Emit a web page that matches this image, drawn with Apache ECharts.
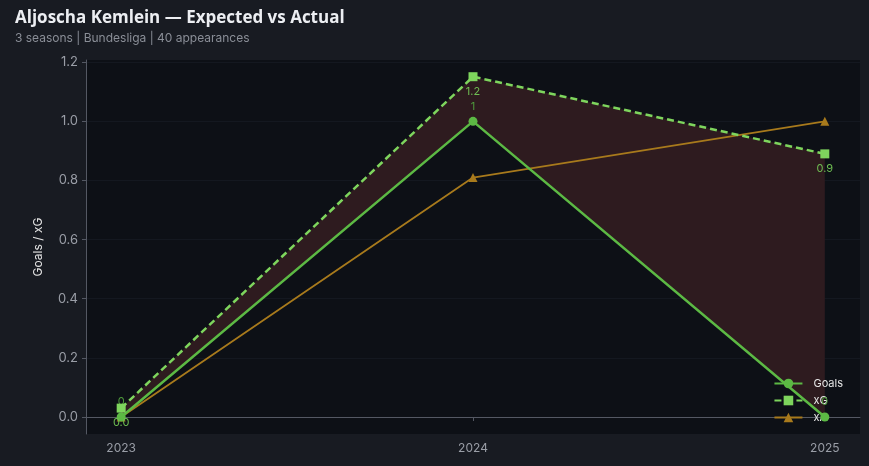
<!DOCTYPE html>
<html>
<head>
<meta charset="utf-8">
<script src="https://cdn.jsdelivr.net/npm/echarts@6/dist/echarts.min.js"></script>
<style>
  html, body { margin: 0; padding: 0; background: #181b22; }
  #chart { width: 869px; height: 466px; }
</style>
</head>
<body>
<div id="chart"></div>
<script>
// Season-by-season output
const seasons = [2023, 2024, 2025];
const goals = [0, 1, 0];
const xg = [0.03, 1.151, 0.89];
const xa = [0.0, 0.81, 1.0];
const yTicks = [0, 0.2, 0.4, 0.6, 0.8, 1.0, 1.2];

const pairs = arr => seasons.map((s, i) => [s, arr[i]]);

// shaded band between the goals line and the xG line
function renderBand(params, api) {
  if (params.dataIndex !== 0) return null;
  const upper = seasons.map((s, i) => api.coord([s, xg[i]]));
  const lower = seasons.map((s, i) => api.coord([s, goals[i]])).reverse();
  return {
    type: 'polygon',
    shape: { points: upper.concat(lower) },
    style: { fill: '#2e1b1f' },
    silent: true
  };
}

const chart = echarts.init(document.getElementById('chart'));
chart.setOption({
  backgroundColor: '#181b22',
  animation: false,
  title: {
    text: 'Aljoscha Kemlein — Expected vs Actual',
    subtext: '3 seasons | Bundesliga | 40 appearances',
    left: 10, top: 5, itemGap: 5,
    textStyle: { color: '#eceef2', fontSize: 17, fontWeight: 'bold', fontFamily: 'Open Sans' },
    subtextStyle: { color: '#8a8e97', fontSize: 12, fontFamily: 'Inter' }
  },
  grid: { left: 86, right: 9, top: 60, bottom: 32, show: true, backgroundColor: '#0d1016', borderWidth: 0 },
  legend: {
    orient: 'vertical', right: 21, bottom: 38, itemGap: 6,
    itemWidth: 28, itemHeight: 12,
    textStyle: { color: '#e6e6e6', fontSize: 11, fontFamily: 'Inter', padding: [0, 0, 0, 6] },
    data: ['Goals', 'xG', 'xA']
  },
  xAxis: {
    type: 'value', min: 2022.9, max: 2025.1,
    axisLine: { lineStyle: { color: '#545863' } },
    axisTick: { show: true, length: 4, customValues: seasons, lineStyle: { color: '#545863' } },
    axisLabel: { customValues: seasons, color: '#9a9ea7', fontSize: 12, fontFamily: 'Inter', margin: 8, formatter: v => String(v) },
    splitLine: { show: false }
  },
  yAxis: {
    type: 'value', min: -0.0575, max: 1.2075,
    name: 'Goals / xG', nameLocation: 'middle', nameGap: 42,
    nameTextStyle: { color: '#e6e6e6', fontSize: 12, fontFamily: 'Inter' },
    axisLine: { show: true, lineStyle: { color: '#545863' } },
    axisTick: { show: true, length: 4, customValues: yTicks, lineStyle: { color: '#545863' } },
    axisLabel: { customValues: yTicks, color: '#9a9ea7', fontSize: 13, fontFamily: 'Inter', margin: 8, formatter: v => v.toFixed(1) },
    splitLine: { show: true, lineStyle: { color: '#141820', width: 1 } }
  },
  series: [
    {
      name: 'band', type: 'custom', renderItem: renderBand,
      data: pairs(xg), z: 1, silent: true
    },
    {
      name: 'xA', type: 'line', data: pairs(xa), z: 3,
      symbol: 'triangle', symbolSize: 9,
      itemStyle: { color: '#a87a1c' },
      lineStyle: { color: '#a87a1c', width: 1.8 }
    },
    {
      name: 'Goals', type: 'line', data: pairs(goals), z: 4,
      symbol: 'circle', symbolSize: 9,
      itemStyle: { color: '#5cb944' },
      lineStyle: { color: '#5cb944', width: 2.5 },
      label: { show: true, position: 'top', distance: 5, color: '#4f9a3c', fontSize: 11, fontFamily: 'Inter', formatter: p => String(p.value[1]) }
    },
    {
      name: 'xG', type: 'line', data: pairs(xg), z: 5,
      symbol: 'rect', symbolSize: 9,
      itemStyle: { color: '#7ed55d' },
      lineStyle: { color: '#7ed55d', width: 2.5, type: [7, 4] },
      label: { show: true, position: 'bottom', distance: 5, color: '#6fbe52', fontSize: 11, fontFamily: 'Inter', formatter: p => p.value[1].toFixed(1) }
    }
  ]
});
</script>
</body>
</html>
